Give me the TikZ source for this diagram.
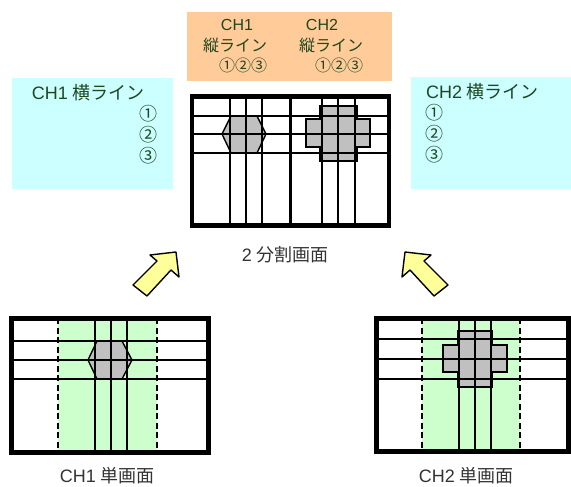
\documentclass[tikz,border=0pt]{standalone}
\usepackage{fontspec}
\setmainfont{Noto Sans CJK JP}
\newfontfamily\lat{Liberation Sans}
\definecolor{boxorange}{HTML}{FFCC99}
\definecolor{boxcyan}{HTML}{CCFFFF}
\definecolor{areagreen}{HTML}{CCFFCC}
\definecolor{shapegray}{HTML}{C0C0C0}
\definecolor{arrowyellow}{HTML}{FFFF99}
\definecolor{txtgreen}{HTML}{1E4620}
\definecolor{txtgray}{HTML}{333333}
\tikzset{
  grid/.style={line width=1.2pt},
  frame/.style={line width=4.5pt},
  blob/.style={fill=shapegray,draw,line width=1.4pt},
  boxtxt/.style={text=txtgreen,font=\fontsize{16}{18}\selectfont,inner sep=0pt},
  bigtxt/.style={boxtxt,font=\fontsize{18}{20}\selectfont},
  lbl/.style={text=txtgray,font=\fontsize{18}{20}\selectfont,inner sep=0pt}
}
\begin{document}
\begin{tikzpicture}[x=1pt,y=-1pt]
\useasboundingbox (0,0) rectangle (571,487);
% label boxes
\fill[boxorange] (187,12) rectangle (392,81);
\fill[boxcyan] (12,78) rectangle (173,189);
\fill[boxcyan] (411,77) rectangle (571,189);
\node[boxtxt] (v1ch) at (237,25) {\lat CH1};
\node[boxtxt] (v1line) at (235,45) {縦ライン};
\node[boxtxt] (v1num) at (243,65) {①②③};
\node[boxtxt] (v2ch) at (322,25) {\lat CH2};
\node[boxtxt] (v2line) at (331,45) {縦ライン};
\node[boxtxt] (v2num) at (339,65) {①②③};
\node[bigtxt] (h1ttl) at (88,93) {{\lat CH1} 横ライン};
\node[bigtxt,anchor=east] (h1a) at (158,114) {①};
\node[bigtxt,anchor=east] (h1b) at (158,135) {②};
\node[bigtxt,anchor=east] (h1c) at (158,156) {③};
\node[bigtxt,anchor=west] (h2ttl) at (426,92) {{\lat CH2} 横ライン};
\node[bigtxt,anchor=west] (h2a) at (425,113) {①};
\node[bigtxt,anchor=west] (h2b) at (425,134) {②};
\node[bigtxt,anchor=west] (h2c) at (425,155) {③};
% split screen
\draw[blob] (231,116) -- (257,116) -- (266,134) -- (257,153) -- (231,153) -- (222,134) -- cycle;
\draw[blob] (320,106) -- (357,106) -- (357,119) -- (370,119) -- (370,147) -- (357,147)
  -- (357,161) -- (320,161) -- (320,147) -- (306,147) -- (306,119) -- (320,119) -- cycle;
\foreach \y in {116,134,153} \draw[grid] (192,\y) -- (389,\y);
\foreach \x in {230,246,262,322,338,355} \draw[grid] (\x,96) -- (\x,226);
\draw[line width=3pt] (290,96) -- (290,226);
\draw[frame] (192,96.5) rectangle (389,225.5);
\node[lbl] (split) at (285,255) {{\lat 2} 分割画面};
% CH1 single screen
\fill[areagreen] (58,318) rectangle (157,452);
\draw[blob] (97,341) -- (122,341) -- (132,360) -- (122,379) -- (97,379) -- (88,360) -- cycle;
\foreach \y in {341,360,379} \draw[grid] (11.5,\y) -- (208.5,\y);
\foreach \x in {95,111,127} \draw[grid] (\x,318) -- (\x,452);
\foreach \x in {58,157} \draw[line width=1.5pt,dash pattern=on 6pt off 3.5pt] (\x,318) -- (\x,452);
\draw[frame] (11.5,318.5) rectangle (208.5,452.5);
\node[lbl] (single1) at (107,476) {{\lat CH1} 単画面};
% CH2 single screen
\fill[areagreen] (422,318) rectangle (520,452);
\draw[blob] (458,331) -- (492,331) -- (492,345) -- (507,345) -- (507,372) -- (492,372)
  -- (492,387) -- (458,387) -- (458,372) -- (443,372) -- (443,345) -- (458,345) -- cycle;
\foreach \y in {339,359,379} \draw[grid] (376.5,\y) -- (568.5,\y);
\foreach \x in {459,475,491} \draw[grid] (\x,318) -- (\x,452);
\foreach \x in {422,520} \draw[line width=1.5pt,dash pattern=on 6pt off 3.5pt] (\x,318) -- (\x,452);
\draw[frame] (376.5,318.5) rectangle (568.5,451.5);
\node[lbl] (single2) at (466,476) {{\lat CH2} 単画面};
% arrows
\draw[fill=arrowyellow,line width=1.4pt,line join=round]
  (150,255) -- (176,252) -- (179,277) -- (171,270) -- (147,296) -- (133,285) -- (157,261) -- cycle;
\begin{scope}[xshift=581pt,xscale=-1]
\draw[fill=arrowyellow,line width=1.4pt,line join=round]
  (150,255) -- (176,252) -- (179,277) -- (171,270) -- (147,296) -- (133,285) -- (157,261) -- cycle;
\end{scope}
\end{tikzpicture}
\end{document}
